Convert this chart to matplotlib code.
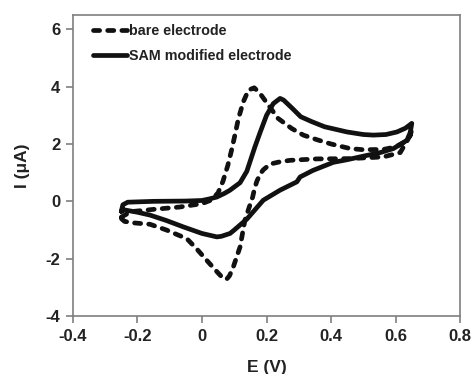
import matplotlib
matplotlib.use("Agg")
import matplotlib.pyplot as plt

plt.rcParams['font.family'] = ['Liberation Sans', 'DejaVu Sans']
plt.rcParams['font.weight'] = 'bold'
plt.rcParams['axes.unicode_minus'] = False

# bare electrode, forward then reverse sweep
bare_E = [-0.25, -0.22, -0.15, -0.07, 0.0, 0.03, 0.05, 0.065, 0.08, 0.092, 0.102, 0.113,
          0.128, 0.144, 0.162, 0.18, 0.206, 0.236, 0.278, 0.314, 0.356, 0.40, 0.459,
          0.50, 0.562, 0.60, 0.625, 0.645, 0.65,
          0.645, 0.614, 0.562, 0.459, 0.356, 0.304, 0.273, 0.242, 0.211, 0.19, 0.18, 0.17,
          0.163, 0.157, 0.145, 0.133, 0.118, 0.097, 0.085, 0.076, 0.065, 0.046, 0.015,
          -0.017, -0.047, -0.079, -0.11, -0.161, -0.213, -0.24, -0.25]
bare_I = [-0.55, -0.36, -0.28, -0.2, -0.08, 0.05, 0.3, 0.7, 1.25, 1.8, 2.31, 2.89,
          3.47, 3.88, 3.96, 3.76, 3.35, 2.89, 2.54, 2.31, 2.15, 2.0, 1.84,
          1.8, 1.81, 1.9, 2.05, 2.3, 2.5,
          2.3, 1.7, 1.55, 1.49, 1.48, 1.45, 1.43, 1.38, 1.3, 1.1, 0.95, 0.7,
          0.45, 0.15, -0.25, -0.66, -1.59, -2.29, -2.6, -2.72, -2.68, -2.45, -2.06,
          -1.65, -1.3, -1.15, -1.0, -0.8, -0.75, -0.7, -0.6]

# SAM modified electrode, forward then reverse sweep
sam_E = [-0.25, -0.245, -0.23, -0.15, -0.05, 0.0, 0.025, 0.046, 0.07, 0.087, 0.118, 0.139,
         0.164, 0.18, 0.2, 0.221, 0.242, 0.253, 0.28, 0.306, 0.34, 0.38, 0.449, 0.5,
         0.531, 0.57, 0.604, 0.63, 0.65,
         0.645, 0.635, 0.593, 0.552, 0.51, 0.449, 0.407, 0.344, 0.304, 0.294, 0.242, 0.19,
         0.139, 0.1, 0.087, 0.06, 0.046, 0.0, -0.058, -0.11, -0.161, -0.2, -0.24, -0.25]
sam_I = [-0.35, -0.12, -0.03, 0.0, 0.01, 0.03, 0.09, 0.15, 0.28, 0.39, 0.65, 1.05,
         1.9, 2.4, 3.0, 3.41, 3.59, 3.53, 3.24, 2.95, 2.78, 2.6, 2.42, 2.33,
         2.31, 2.33, 2.42, 2.55, 2.72,
         2.4, 2.13, 1.84, 1.7, 1.6, 1.45, 1.36, 1.08, 0.85, 0.68, 0.39, 0.04,
         -0.62, -1.0, -1.12, -1.22, -1.24, -1.12, -0.89, -0.67, -0.48, -0.38, -0.3, -0.35]

fig = plt.figure(figsize=(4.73, 3.74), dpi=100)
ax = fig.add_axes([0.154, 0.155, 0.819, 0.805])

ax.plot(bare_E, bare_I, color='#111111', lw=3.4, dashes=(1.3, 1.7),
        dash_capstyle='round', dash_joinstyle='round', label='bare electrode')
ax.plot(sam_E, sam_I, color='#111111', lw=3.4, solid_capstyle='round',
        solid_joinstyle='round', label='SAM modified electrode')

ax.set_xlim(-0.4, 0.8)
ax.set_ylim(-4, 6.5)
ax.set_xticks([-0.4, -0.2, 0, 0.2, 0.4, 0.6, 0.8])
ax.set_xticklabels(['-0.4', '-0.2', '0', '0.2', '0.4', '0.6', '0.8'])
ax.set_yticks([-4, -2, 0, 2, 4, 6])

for s in ax.spines.values():
    s.set_color('#7f7f7f')
    s.set_linewidth(1.2)
ax.tick_params(direction='out', length=5, width=1.2, color='#7f7f7f',
               labelsize=12, labelcolor='#222222', pad=4)

ax.set_xlabel('E (V)', fontsize=12.5, fontweight='bold', color='#222222', labelpad=12)
ax.set_ylabel('I (μA)', fontsize=12.5, fontweight='bold', color='#222222', labelpad=11)

ax.legend(loc='upper left', frameon=False, fontsize=10.3, handlelength=2.4,
          handletextpad=0.1, labelspacing=0.78, borderaxespad=0.2,
          bbox_to_anchor=(0.03, 1.0), labelcolor='#222222')

fig.savefig('out.png', dpi=100)
